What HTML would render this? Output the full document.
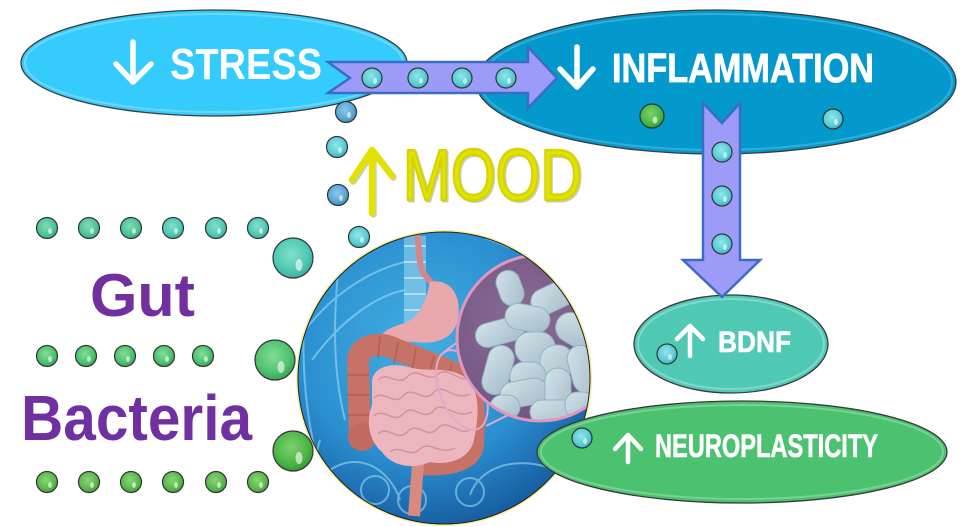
<!DOCTYPE html>
<html><head><meta charset="utf-8"><style>
html,body{margin:0;padding:0;background:#fff;}
svg{display:block;}
text{font-family:"Liberation Sans",sans-serif;}
</style></head><body>
<svg width="972" height="527" viewBox="0 0 972 527" xmlns="http://www.w3.org/2000/svg">
<defs>
<radialGradient id="bCyan" cx="0.45" cy="0.4" r="0.6"><stop offset="0" stop-color="#8ee6ea"/><stop offset="0.7" stop-color="#5accd3"/><stop offset="1" stop-color="#3fb0bb"/></radialGradient>
<radialGradient id="bBlue" cx="0.45" cy="0.4" r="0.6"><stop offset="0" stop-color="#8cc8ea"/><stop offset="0.7" stop-color="#5aa6d4"/><stop offset="1" stop-color="#3f8cbd"/></radialGradient>
<radialGradient id="bTeal" cx="0.45" cy="0.4" r="0.6"><stop offset="0" stop-color="#80e0cc"/><stop offset="0.7" stop-color="#50c8b4"/><stop offset="1" stop-color="#3aae9c"/></radialGradient>
<radialGradient id="bTG" cx="0.45" cy="0.4" r="0.6"><stop offset="0" stop-color="#80dcb0"/><stop offset="0.7" stop-color="#4ec39a"/><stop offset="1" stop-color="#39a983"/></radialGradient>
<radialGradient id="bGreen" cx="0.45" cy="0.4" r="0.6"><stop offset="0" stop-color="#84dc98"/><stop offset="0.7" stop-color="#4dc26f"/><stop offset="1" stop-color="#37a457"/></radialGradient>
<radialGradient id="bGreen2" cx="0.45" cy="0.4" r="0.6"><stop offset="0" stop-color="#8ad37a"/><stop offset="0.7" stop-color="#5cb84c"/><stop offset="1" stop-color="#47a03a"/></radialGradient>
<radialGradient id="bGreen3" cx="0.45" cy="0.4" r="0.6"><stop offset="0" stop-color="#7ed06c"/><stop offset="0.7" stop-color="#4bb646"/><stop offset="1" stop-color="#369a33"/></radialGradient>
<radialGradient id="gutBg" cx="0.42" cy="0.38" r="0.65"><stop offset="0" stop-color="#43aee2"/><stop offset="0.6" stop-color="#2a8fd0"/><stop offset="1" stop-color="#15589c"/></radialGradient>
<radialGradient id="magBg" cx="0.4" cy="0.4" r="0.7"><stop offset="0" stop-color="#8a6b92"/><stop offset="1" stop-color="#6f5282"/></radialGradient>
<linearGradient id="bact" x1="0" y1="0" x2="1" y2="1"><stop offset="0" stop-color="#d4e2e8"/><stop offset="1" stop-color="#a4bcc8"/></linearGradient>
<clipPath id="gutClip"><circle cx="444" cy="378" r="146"/></clipPath>
<clipPath id="magClip"><circle cx="540" cy="338" r="83"/></clipPath>
</defs>

<!-- STRESS ellipse -->
<ellipse cx="214" cy="63" rx="193" ry="53" fill="#35cbfc" stroke="#3a3a3a" stroke-width="1.3"/>
<ellipse cx="214" cy="63" rx="189" ry="49" fill="none" stroke="#9fe6ff" stroke-width="2" opacity="0.5"/>
<path d="M133 42 L133 82 M116 64 L133 82 L151 64" stroke="#fff" stroke-width="5.5" fill="none" stroke-linecap="round" stroke-linejoin="round"/>
<text x="170" y="79" font-size="44" font-weight="bold" fill="#fff" textLength="152" lengthAdjust="spacingAndGlyphs">STRESS</text>

<!-- INFLAMMATION ellipse -->
<ellipse cx="716" cy="82" rx="240" ry="72" fill="#0399cc" stroke="#3a3a3a" stroke-width="1.3"/>
<ellipse cx="716" cy="82" rx="236" ry="68" fill="none" stroke="#6cc8ea" stroke-width="2" opacity="0.45"/>
<path d="M577 47 L577 87 M560 69 L577 87 L593 69" stroke="#fff" stroke-width="5.5" fill="none" stroke-linecap="round" stroke-linejoin="round"/>
<text x="612" y="82" font-size="41" font-weight="bold" fill="#fff" stroke="#fff" stroke-width="0.8" textLength="262" lengthAdjust="spacingAndGlyphs">INFLAMMATION</text>

<!-- BDNF ellipse -->
<ellipse cx="731" cy="344" rx="97" ry="49" fill="#50c9b4" stroke="#3a3a3a" stroke-width="1.3"/>
<ellipse cx="731" cy="344" rx="93" ry="45" fill="none" stroke="#a8ecdc" stroke-width="2" opacity="0.5"/>
<path d="M690 356 L690 326 M677 339 L690 326 L703 339" stroke="#fff" stroke-width="4.5" fill="none" stroke-linecap="round" stroke-linejoin="round"/>
<text x="718" y="352" font-size="30" font-weight="bold" fill="#fff" stroke="#fff" stroke-width="0.6" textLength="73" lengthAdjust="spacingAndGlyphs">BDNF</text>

<!-- horizontal arrow -->
<polygon points="328,62 350,78 328,93 528,93 528,108 557,78 528,47 528,62" fill="#9c9cf8" stroke="#3b6cc4" stroke-width="2.5" stroke-linejoin="miter"/>
<!-- vertical arrow -->
<polygon points="703,103 722,123 740,103 740,260 760,260 722,297 683,260 703,260" fill="#9c9cf8" stroke="#3b6cc4" stroke-width="2.5" stroke-linejoin="miter"/>

<!-- MOOD -->
<g opacity="0.35" transform="translate(1.5,1.5)">
<path d="M372 213 L372 150 M352 180 L372 150 L392 176" stroke="#707030" stroke-width="6.5" fill="none" stroke-linecap="round" stroke-linejoin="round"/>
<text x="403" y="200" font-size="72" fill="#707030" stroke="#707030" stroke-width="2" textLength="179" lengthAdjust="spacingAndGlyphs">MOOD</text>
</g>
<path d="M372 213 L372 150 M352 180 L372 150 L392 176" stroke="#e2e200" stroke-width="6.5" fill="none" stroke-linecap="round" stroke-linejoin="round"/>
<text x="403" y="200" font-size="72" fill="#e2e200" stroke="#d4d400" stroke-width="2.4" stroke-linejoin="round" textLength="179" lengthAdjust="spacingAndGlyphs">MOOD</text>

<!-- Gut Bacteria text -->
<text x="90" y="316" font-size="60" font-weight="bold" fill="#7030a0" textLength="105" lengthAdjust="spacingAndGlyphs">Gut</text>
<text x="21" y="440" font-size="64" font-weight="bold" fill="#7030a0" textLength="231" lengthAdjust="spacingAndGlyphs">Bacteria</text>

<!-- Gut circle image -->
<circle cx="444" cy="378" r="148" fill="#f6f0a0"/>
<g clip-path="url(#gutClip)">
<rect x="290" y="228" width="310" height="300" fill="url(#gutBg)"/>
<g fill="none" stroke="#a8e0f8" stroke-width="2" opacity="0.55">
<path d="M300 300 C330 260 370 245 400 238"/>
<path d="M305 330 C340 285 380 268 405 262"/>
<path d="M312 360 C345 315 380 295 405 290"/>
<path d="M485 238 C520 250 560 270 590 300"/>
<path d="M340 250 C335 300 330 360 345 420"/>
<path d="M330 470 C360 450 390 470 400 500"/>
<path d="M470 495 C480 465 520 455 555 470"/>
<path d="M320 440 C310 470 320 500 340 520"/>
<circle cx="375" cy="490" r="14"/>
<circle cx="470" cy="492" r="14"/>
<circle cx="412" cy="500" r="14"/>
<path d="M310 260 C300 320 300 400 320 470"/>
<path d="M570 430 C560 470 550 500 530 520"/>
</g>
<g fill="#b8e4f6" opacity="0.45">
<rect x="404" y="236" width="22" height="90"/>
</g>
<g stroke="#e0f4fc" stroke-width="2" opacity="0.6">
<line x1="404" y1="246" x2="426" y2="246"/><line x1="404" y1="262" x2="426" y2="262"/><line x1="404" y1="278" x2="426" y2="278"/><line x1="404" y1="294" x2="426" y2="294"/><line x1="404" y1="310" x2="426" y2="310"/>
</g>
<!-- esophagus -->
<path d="M417 232 L420 262 C422 275 430 282 438 288" stroke="#d4868a" stroke-width="6" fill="none"/>
<!-- stomach -->
<path d="M430 282 C450 278 462 295 458 318 C455 338 438 345 414 342 C400 340 390 346 380 346 C374 338 386 328 402 324 C418 320 426 302 430 282 Z" fill="#e9a8ac"/>
<!-- colon -->
<path d="M360 440 L358 362 C358 348 372 342 388 346 L462 376 C474 384 475 410 473 445 C471 462 445 466 420 464" stroke="#c77267" stroke-width="22" fill="none" stroke-linejoin="round"/>
<g stroke="#a85850" stroke-width="1.5" opacity="0.7">
<line x1="347" y1="375" x2="369" y2="375"/><line x1="347" y1="395" x2="369" y2="395"/><line x1="347" y1="415" x2="369" y2="415"/>
<line x1="380" y1="336" x2="378" y2="358"/><line x1="398" y1="342" x2="394" y2="364"/><line x1="416" y1="348" x2="412" y2="370"/><line x1="434" y1="356" x2="428" y2="378"/><line x1="452" y1="364" x2="446" y2="386"/>
</g>
<circle cx="362" cy="437" r="14" fill="#c06a60"/>
<path d="M418 464 L414 516" stroke="#d88a80" stroke-width="12" fill="none"/>
<!-- small intestine -->
<path d="M372 385 C370 365 395 362 412 368 C430 372 450 366 466 378 C482 392 478 420 474 440 C470 458 450 466 430 462 C412 470 392 466 382 452 C368 440 366 420 372 405 Z" fill="#ebb6be"/>
<g fill="none" stroke="#cf8a98" stroke-width="1.5" opacity="0.8">
<path d="M378 380 C388 370 398 388 408 376 C418 366 428 384 438 374 C448 366 458 382 468 378"/>
<path d="M374 398 C384 388 394 408 404 395 C414 385 424 405 434 392 C444 382 454 402 470 394"/>
<path d="M374 416 C384 406 394 426 404 413 C414 403 424 423 434 410 C444 400 454 420 472 412"/>
<path d="M378 434 C388 424 398 444 408 431 C418 421 428 441 438 428 C448 418 458 436 470 430"/>
<path d="M390 452 C400 444 410 459 420 449 C430 440 440 456 455 448"/>
</g>
<!-- zoom connector -->
<ellipse cx="462" cy="390" rx="22" ry="42" transform="rotate(-22 462 390)" fill="none" stroke="#e6a8c8" stroke-width="2"/>
<line x1="444" y1="352" x2="466" y2="336" stroke="#e6a8c8" stroke-width="2"/>
<line x1="486" y1="426" x2="510" y2="414" stroke="#e6a8c8" stroke-width="2"/>
<!-- magnified circle -->
<circle cx="540" cy="338" r="83" fill="url(#magBg)"/>
<g clip-path="url(#magClip)" fill="url(#bact)" stroke="#8fb4c4" stroke-width="1">
<rect x="498" y="270" width="24" height="36" rx="12" transform="rotate(-20 510 288)"/>
<rect x="530" y="285" width="45" height="26" rx="13" transform="rotate(-25 552 298)"/>
<rect x="575" y="290" width="24" height="40" rx="12"/>
<rect x="475" y="320" width="50" height="24" rx="12" transform="rotate(-15 500 332)"/>
<rect x="505" y="305" width="45" height="26" rx="13" transform="rotate(10 527 318)"/>
<rect x="555" y="315" width="40" height="30" rx="15" transform="rotate(30 575 330)"/>
<rect x="515" y="332" width="40" height="32" rx="15"/>
<rect x="485" y="345" width="26" height="50" rx="13" transform="rotate(15 498 370)"/>
<rect x="540" y="345" width="34" height="34" rx="16"/>
<rect x="570" y="345" width="26" height="48" rx="13" transform="rotate(-15 583 369)"/>
<rect x="510" y="362" width="36" height="30" rx="14"/>
<rect x="500" y="380" width="48" height="26" rx="13" transform="rotate(-10 524 393)"/>
<rect x="545" y="368" width="26" height="50" rx="13"/>
<rect x="530" y="400" width="50" height="24" rx="12"/>
<rect x="565" y="392" width="30" height="26" rx="12"/>
<rect x="490" y="395" width="30" height="24" rx="12"/>
</g>
<circle cx="540" cy="338" r="83" fill="none" stroke="#df97bf" stroke-width="3"/>
</g>
<circle cx="444" cy="378" r="146" fill="none" stroke="#222" stroke-width="1"/>

<!-- NEUROPLASTICITY ellipse -->
<ellipse cx="742" cy="452" rx="205" ry="51" fill="#4cc170" stroke="#3a3a3a" stroke-width="1.3"/>
<ellipse cx="742" cy="452" rx="201" ry="47" fill="none" stroke="#a0e6b4" stroke-width="2" opacity="0.5"/>
<path d="M628 462 L628 435 M615 449 L628 435 L641 449" stroke="#fff" stroke-width="4.5" fill="none" stroke-linecap="round" stroke-linejoin="round"/>
<text x="655" y="457" font-size="32" font-weight="bold" fill="#fff" stroke="#fff" stroke-width="0.6" textLength="223" lengthAdjust="spacingAndGlyphs">NEUROPLASTICITY</text>

<!-- balls -->
<g stroke="#333" stroke-width="1.2">
<circle cx="372" cy="78" r="10" fill="url(#bCyan)"/>
<circle cx="418" cy="78" r="10" fill="url(#bCyan)"/>
<circle cx="462" cy="78" r="10" fill="url(#bCyan)"/>
<circle cx="506" cy="78" r="10" fill="url(#bCyan)"/>
<circle cx="722" cy="152" r="10" fill="url(#bCyan)"/>
<circle cx="722" cy="196" r="10" fill="url(#bCyan)"/>
<circle cx="722" cy="244" r="10" fill="url(#bCyan)"/>
<circle cx="652" cy="116" r="12" fill="url(#bGreen3)"/>
<circle cx="833" cy="119" r="10" fill="url(#bCyan)"/>
<circle cx="667" cy="354" r="10" fill="url(#bCyan)"/>
<circle cx="582" cy="438" r="10" fill="url(#bCyan)"/>
<circle cx="346" cy="112" r="10.5" fill="url(#bBlue)"/>
<circle cx="337" cy="147" r="10.5" fill="url(#bCyan)"/>
<circle cx="338" cy="195" r="10.5" fill="url(#bBlue)"/>
<circle cx="359" cy="237" r="10.5" fill="url(#bCyan)"/>
<circle cx="47" cy="228" r="10.5" fill="url(#bTG)"/>
<circle cx="89" cy="228" r="10.5" fill="url(#bTG)"/>
<circle cx="131" cy="228" r="10.5" fill="url(#bTG)"/>
<circle cx="173" cy="228" r="10.5" fill="url(#bTeal)"/>
<circle cx="216" cy="228" r="10.5" fill="url(#bTeal)"/>
<circle cx="258" cy="228" r="10.5" fill="url(#bTeal)"/>
<circle cx="47" cy="356" r="10.5" fill="url(#bGreen)"/>
<circle cx="86" cy="356" r="10.5" fill="url(#bGreen)"/>
<circle cx="125" cy="356" r="10.5" fill="url(#bGreen)"/>
<circle cx="164" cy="356" r="10.5" fill="url(#bGreen)"/>
<circle cx="203" cy="356" r="10.5" fill="url(#bGreen)"/>
<circle cx="47" cy="482" r="10.5" fill="url(#bGreen2)"/>
<circle cx="89" cy="482" r="10.5" fill="url(#bGreen2)"/>
<circle cx="131" cy="482" r="10.5" fill="url(#bGreen2)"/>
<circle cx="173" cy="482" r="10.5" fill="url(#bGreen2)"/>
<circle cx="216" cy="482" r="10.5" fill="url(#bGreen2)"/>
<circle cx="258" cy="482" r="10.5" fill="url(#bGreen2)"/>
<circle cx="293" cy="258" r="20" fill="url(#bTeal)"/>
<circle cx="275" cy="360" r="20" fill="url(#bGreen)"/>
<circle cx="293" cy="451" r="20" fill="url(#bGreen3)"/>
</g>
<g fill="#fff" opacity="0.6">
<ellipse cx="375" cy="81" rx="2" ry="3"/><ellipse cx="421" cy="81" rx="2" ry="3"/><ellipse cx="465" cy="81" rx="2" ry="3"/><ellipse cx="509" cy="81" rx="2" ry="3"/>
<ellipse cx="725" cy="155" rx="2" ry="3"/><ellipse cx="725" cy="199" rx="2" ry="3"/><ellipse cx="725" cy="247" rx="2" ry="3"/>
<ellipse cx="655" cy="120" rx="2.5" ry="3.5"/><ellipse cx="836" cy="122" rx="2" ry="3"/>
<ellipse cx="670" cy="357" rx="2" ry="3"/><ellipse cx="585" cy="441" rx="2" ry="3"/>
<ellipse cx="349" cy="115" rx="2" ry="3"/><ellipse cx="340" cy="150" rx="2" ry="3"/><ellipse cx="341" cy="198" rx="2" ry="3"/><ellipse cx="362" cy="240" rx="2" ry="3"/>
<ellipse cx="50" cy="231" rx="2" ry="3"/><ellipse cx="92" cy="231" rx="2" ry="3"/><ellipse cx="134" cy="231" rx="2" ry="3"/><ellipse cx="176" cy="231" rx="2" ry="3"/><ellipse cx="219" cy="231" rx="2" ry="3"/><ellipse cx="261" cy="231" rx="2" ry="3"/>
<ellipse cx="50" cy="359" rx="2" ry="3"/><ellipse cx="89" cy="359" rx="2" ry="3"/><ellipse cx="128" cy="359" rx="2" ry="3"/><ellipse cx="167" cy="359" rx="2" ry="3"/><ellipse cx="206" cy="359" rx="2" ry="3"/>
<ellipse cx="50" cy="485" rx="2" ry="3"/><ellipse cx="92" cy="485" rx="2" ry="3"/><ellipse cx="134" cy="485" rx="2" ry="3"/><ellipse cx="176" cy="485" rx="2" ry="3"/><ellipse cx="219" cy="485" rx="2" ry="3"/><ellipse cx="261" cy="485" rx="2" ry="3"/>
<ellipse cx="299" cy="265" rx="3.5" ry="6"/><ellipse cx="281" cy="367" rx="3.5" ry="6"/><ellipse cx="299" cy="458" rx="3.5" ry="6"/>
</g>
</svg>
</body></html>
